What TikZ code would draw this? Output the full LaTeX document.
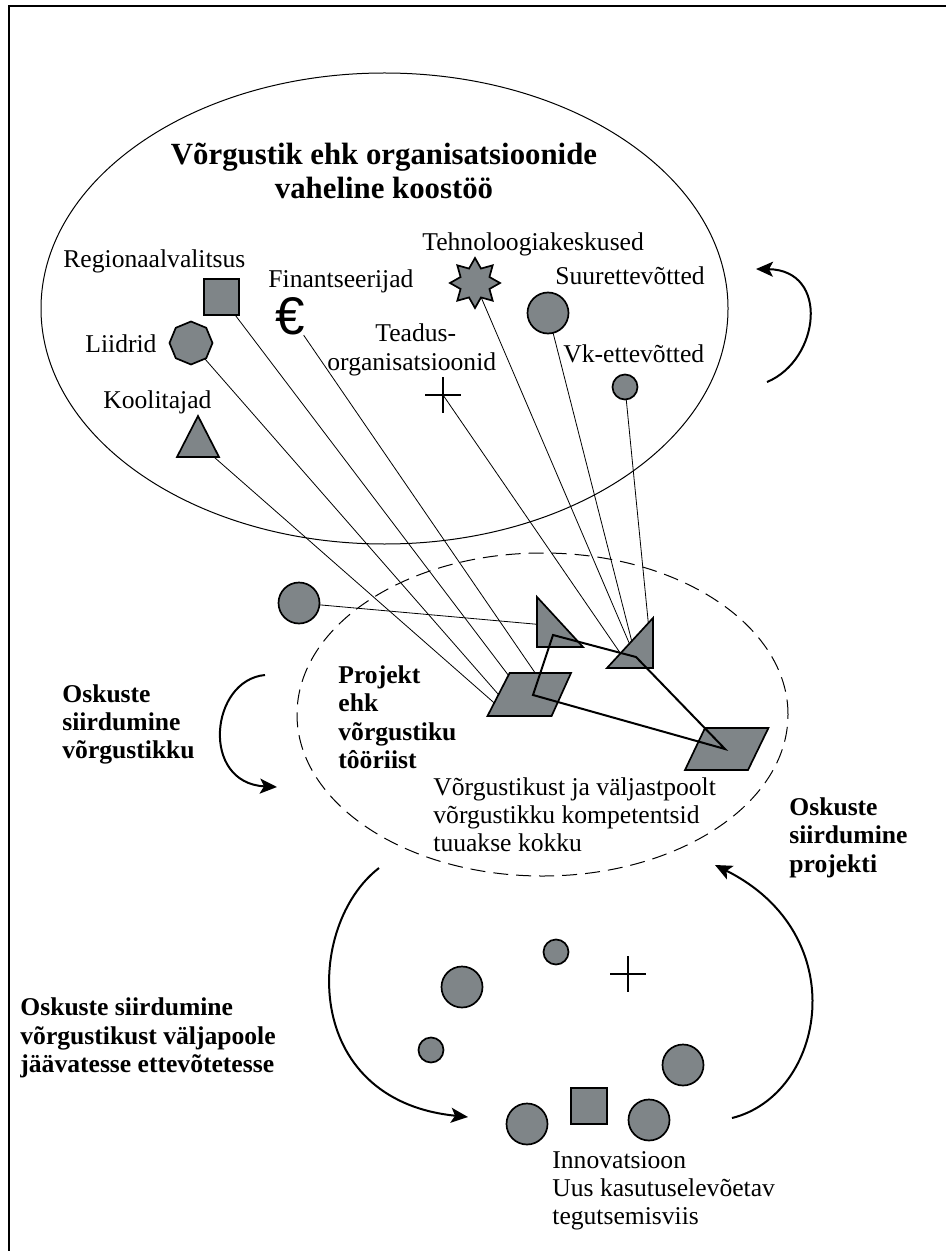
\documentclass[tikz,border=0pt]{standalone}
\usepackage{fontspec}
\setmainfont{Liberation Serif}
\newfontfamily\eurofont{Liberation Sans}
\usetikzlibrary{shapes.geometric,arrows.meta,backgrounds}
\definecolor{shapegray}{RGB}{127,133,136}
\begin{document}
\begin{tikzpicture}[x=0.5pt,y=-0.5pt,
  lbl/.style={font=\fontsize{12.8}{15}\selectfont, anchor=base west, inner sep=0pt},
  blbl/.style={font=\fontsize{12.8}{15}\selectfont\bfseries, anchor=base west, inner sep=0pt},
  ttl/.style={font=\fontsize{15.4}{18}\selectfont\bfseries, anchor=base, inner sep=0pt},
  solid shape/.style={draw=black, fill=shapegray, line width=0.85pt, inner sep=0pt, outer sep=0pt},
  bigdot/.style={solid shape, circle, minimum size=20.5pt},
  smalldot/.style={solid shape, circle, minimum size=12.5pt},
  link/.style={line width=0.4pt},
  bond/.style={line width=1pt, line join=miter},
  crossmark/.style={line width=1pt},
  flow/.style={line width=1pt, -{Stealth[length=8.5pt,width=7.5pt,inset=2pt]}},
]
\useasboundingbox (0,0) rectangle (946,1251);

% page frame
\draw[line width=0.7pt] (946,6) -- (9,6) -- (9,1251);

% network ellipse and project ellipse
\draw[line width=0.5pt] (384.5,308.5) ellipse [x radius=171.75pt, y radius=117.75pt];
\draw[line width=0.5pt, dash pattern=on 7.5pt off 4pt] (542.5,714.5) ellipse [x radius=122.75pt, y radius=80.75pt];

% title
\node[ttl] (title1) at (384,164.5) {Võrgustik ehk organisatsioonide};
\node[ttl] (title2) at (384,198.5) {vaheline koostöö};

% network members
\node[lbl] (l-reg) at (63,268) {Regionaalvalitsus};
\node[lbl] (l-fin) at (268,288) {Finantseerijad};
\node[lbl] (l-lii) at (85,352) {Liidrid};
\node[lbl] (l-koo) at (103,408) {Koolitajad};
\node[lbl] (l-tea1) at (375,342) {Teadus-};
\node[lbl] (l-tea2) at (327,370) {organisatsioonid};
\node[lbl] (l-teh) at (422,251) {Tehnoloogiakeskused};
\node[lbl] (l-suu) at (555,285) {Suurettevõtted};
\node[lbl] (l-vk) at (563,363) {Vk-ettevõtted};

\node[solid shape, minimum size=17.75pt] (sq) at (221.5,297) {};
\node[solid shape, regular polygon, regular polygon sides=8, shape border rotate=22.5, minimum size=21.5pt] (oct) at (191,343) {};
\draw[solid shape] (198,416) -- (219,457) -- (177,457) -- cycle;
\coordinate (koo) at (198,443);
\node[font=\eurofont\fontsize{26.5}{30}\selectfont, inner sep=0pt] (euro) at (290.5,316) {€};
\node[solid shape, star, star points=8, star point ratio=1.6, minimum size=25pt] (star) at (475,283) {};
\node[bigdot] (suur) at (548,313) {};
\node[smalldot] (vk) at (625,387) {};
\coordinate (tea) at (443,395);
\draw[crossmark] (425,395) -- (461,395) (443,377) -- (443,413);

% project members
\node[bigdot] (outside) at (299,603) {};
\draw[solid shape] (537,597) -- (583,647) -- (537,647) -- cycle;
\draw[solid shape] (653,618) -- (653,668) -- (607,668) -- cycle;
\draw[solid shape] (509.6,673) -- (571,673) -- (551.6,716) -- (487.5,716) -- cycle;
\draw[solid shape] (705,728) -- (768.4,728) -- (748,770) -- (685,770) -- cycle;

% connector ends inside the project shapes
\coordinate (p-koo) at (500,708);
\coordinate (p-oct) at (505,702);
\coordinate (p-sq) at (515,684);
\coordinate (p-eu) at (540,680);
\coordinate (p-tea) at (625,660);
\coordinate (p-star) at (633,652);
\coordinate (p-suur) at (634,650);
\coordinate (p-vk) at (649,630);
\coordinate (p-out) at (545,625);

\begin{pgfonlayer}{background}
\draw[link] (koo) -- (p-koo);
\draw[link] (oct) -- (p-oct);
\draw[link] (sq) -- (p-sq);
\draw[link] (euro) -- (p-eu);
\draw[link] (tea) -- (p-tea);
\draw[link] (star) -- (p-star);
\draw[link] (suur) -- (p-suur);
\draw[link] (vk) -- (p-vk);
\draw[link] (outside) -- (p-out);
\end{pgfonlayer}

% project team links
\coordinate (z1) at (533,695);
\coordinate (z2) at (553,635);
\coordinate (z3) at (636,657);
\coordinate (z4) at (725,749);
\draw[bond] (z1) -- (z2) -- (z3) -- (z4) -- cycle;

% project labels
\node[blbl] (pr1) at (338,683) {Projekt};
\node[blbl] (pr2) at (338,711.5) {ehk};
\node[blbl] (pr3) at (338,740) {võrgustiku};
\node[blbl] (pr4) at (338,768) {tôöriist};

\node[lbl] (k1) at (433,795) {Võrgustikust ja väljastpoolt};
\node[lbl] (k2) at (433,823) {võrgustikku kompetentsid};
\node[lbl] (k3) at (433,851) {tuuakse kokku};

\node[blbl] (sv1) at (62,702) {Oskuste};
\node[blbl] (sv2) at (62,730.5) {siirdumine};
\node[blbl] (sv3) at (62,758.5) {võrgustikku};

\node[blbl] (sp1) at (789,815) {Oskuste};
\node[blbl] (sp2) at (789,843.5) {siirdumine};
\node[blbl] (sp3) at (789,872) {projekti};

\node[blbl] (se1) at (20,1015) {Oskuste siirdumine};
\node[blbl] (se2) at (20,1044) {võrgustikust väljapoole};
\node[blbl] (se3) at (20,1072) {jäävatesse ettevõtetesse};

% companies outside the network
\node[smalldot] (c1) at (556,952) {};
\coordinate (c2) at (628,974);
\draw[crossmark] (610,974) -- (646,974) (628,956) -- (628,992);
\node[bigdot] (c3) at (462,987) {};
\node[smalldot] (c4) at (431,1050) {};
\node[bigdot] (c5) at (683,1065) {};
\node[solid shape, minimum size=17.75pt] (c6) at (589,1106) {};
\node[bigdot] (c7) at (527,1124) {};
\node[bigdot] (c8) at (649,1120) {};

\node[lbl] (in1) at (552,1168) {Innovatsioon};
\node[lbl] (in2) at (552,1196.5) {Uus kasutuselevõetav};
\node[lbl] (in3) at (552,1224) {tegutsemisviis};

% circulation arrows
\coordinate (a1s) at (767,382);
\coordinate (a1e) at (756,269);
\draw[flow] (a1s) .. controls (820,360) and (830,270) .. (a1e);

\coordinate (a2s) at (265,675);
\coordinate (a2e) at (277,787);
\draw[flow] (a2s) .. controls (210,680) and (200,783) .. (a2e);

\coordinate (a3s) at (379,868);
\coordinate (a3e) at (468,1117);
\draw[flow] (a3s) .. controls (305,925) and (300,1100) .. (a3e);

\coordinate (a4s) at (732,1118);
\coordinate (a4e) at (715,865);
\draw[flow] (a4s) .. controls (825,1095) and (855,935) .. (a4e);
\end{tikzpicture}
\end{document}
